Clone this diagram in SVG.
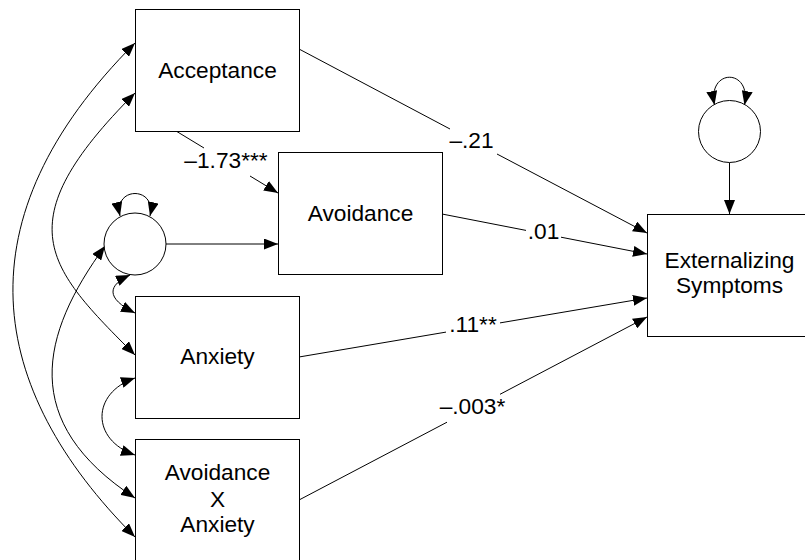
<svg xmlns="http://www.w3.org/2000/svg" width="805" height="560" viewBox="0 0 805 560">
  <style>
    .box { fill: #fff; stroke: #000; stroke-width: 1; }
    .lat { fill: #fff; stroke: #000; stroke-width: 1; }
    .lbl { font-family: "Liberation Sans", Arial, sans-serif; font-size: 22.7px; fill: #000; text-anchor: middle; }
    .ln { fill: none; stroke: #000; stroke-width: 1; }
    .arr { fill: none; stroke: #000; stroke-width: 1; marker-end: url(#head); }
    .cov { fill: none; stroke: #000; stroke-width: 1; marker-start: url(#head); marker-end: url(#head); }
  </style>
  <defs>
    <marker id="head" markerUnits="userSpaceOnUse" markerWidth="14" markerHeight="11" refX="14" refY="5.5" orient="auto-start-reverse">
      <path d="M0,0 L14,5.5 L0,11 z" fill="#000"/>
    </marker>
  </defs>
  <rect width="805" height="560" fill="#fff"/>

  <!-- connectors: paths, covariances and residual loops -->
  <g id="connectors">
    <!-- Acceptance -> Avoidance -->
    <path class="ln" d="M176,131 L204,148"/>
    <path class="arr" d="M250,176 L278,193"/>
    <text class="lbl" x="226" y="168">–1.73***</text>
    <!-- Acceptance -> Externalizing -->
    <path class="ln" d="M299,49 L450,129"/>
    <path class="arr" d="M497,154 L647,233"/>
    <text class="lbl" x="471.5" y="148">–.21</text>
    <!-- Avoidance -> Externalizing -->
    <path class="ln" d="M442,214 L526,230.4"/>
    <path class="arr" d="M561,237.2 L647,254"/>
    <text class="lbl" x="543.5" y="239">.01</text>
    <!-- Anxiety -> Externalizing -->
    <path class="ln" d="M299,357 L446,332.1"/>
    <path class="arr" d="M500,322.9 L647,298"/>
    <text class="lbl" x="473" y="332">.11**</text>
    <!-- Avoidance X Anxiety -> Externalizing -->
    <path class="ln" d="M299,500 L447,422.2"/>
    <path class="arr" d="M500,394.3 L647,317"/>
    <text class="lbl" x="472.5" y="414">–.003*</text>
    <!-- residuals -->
    <path class="arr" d="M166,244 L278,244"/>
    <path class="arr" d="M729.5,162.5 L729.5,214"/>
    <path class="cov" d="M120,216 C113,186 157,186 150,216"/>
    <path class="cov" d="M714.5,105 C707,68 752,68 744.5,105"/>
    <!-- covariances -->
    <path class="cov" d="M135,43 C-41,219 -14,388 135,537"/>
    <path class="cov" d="M135,93 C4,224 47,267 135,355"/>
    <path class="cov" d="M105,246 C40,335 19,422 135,498"/>
    <path class="cov" d="M130,275 C108,285 105,298 135,313"/>
    <path class="cov" d="M135,378 C91,393 91,440 135,455"/>
  </g>

  <g id="acceptance">
    <rect class="box" x="135.5" y="9.5" width="164" height="122"/>
    <text class="lbl" x="217.5" y="78">Acceptance</text>
  </g>
  <g id="avoidance">
    <rect class="box" x="278.5" y="152.5" width="164" height="122"/>
    <text class="lbl" x="360.5" y="221">Avoidance</text>
  </g>
  <g id="anxiety">
    <rect class="box" x="135.5" y="296.5" width="164" height="122"/>
    <text class="lbl" x="217.5" y="364">Anxiety</text>
  </g>
  <g id="interaction">
    <rect class="box" x="135.5" y="439.5" width="164" height="122"/>
    <text class="lbl" x="217.5" y="480">Avoidance</text>
    <text class="lbl" x="217.5" y="507">X</text>
    <text class="lbl" x="217.5" y="532">Anxiety</text>
  </g>
  <g id="externalizing">
    <rect class="box" x="647.5" y="214.5" width="164" height="122"/>
    <text class="lbl" x="729.5" y="268">Externalizing</text>
    <text class="lbl" x="729.5" y="293">Symptoms</text>
  </g>
  <g id="avoidance-residual">
    <circle class="lat" cx="135" cy="244" r="31"/>
  </g>
  <g id="externalizing-residual">
    <circle class="lat" cx="729.5" cy="131.5" r="31"/>
  </g>
</svg>
